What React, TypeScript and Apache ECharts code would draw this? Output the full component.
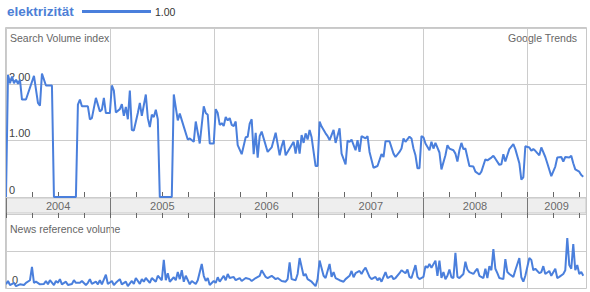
import React, { useEffect, useRef } from "react";
import * as echarts from "echarts";

const seriesName = "elektrizität";
const legendValue = "1.00";
const years = ["2004", "2005", "2006", "2007", "2008", "2009"];
const searchTickLabels = ["0", "1.00", "2.00"];
const newsTickLabels = ["0"];

// weeks counted from the first week of January 2004
const searchWeeks = [
  0, 1, 2, 3, 4, 5, 6, 7, 8, 10,
  14, 16, 17, 18, 20, 23, 24, 35, 36, 37,
  38, 41, 42, 43, 45, 47, 48, 49, 50, 52,
  53, 54, 55, 57, 58, 59, 60, 61, 62, 63,
  64, 66, 67, 68, 70, 71, 72, 73, 74, 75,
  76, 77, 83, 84, 86, 87, 89, 91, 92, 94,
  95, 97, 99, 100, 101, 102, 104, 105, 106, 107,
  108, 109, 110, 111, 112, 113, 114, 115, 116, 118,
  120, 121, 122, 123, 124, 125, 126, 127, 128, 131,
  133, 135, 137, 138, 139, 140, 142, 144, 145, 146,
  147, 148, 149, 150, 151, 152, 153, 155, 156, 157,
  158, 160, 161, 162, 164, 165, 167, 168, 170, 171,
  172, 173, 175, 176, 177, 178, 180, 181, 182, 184,
  186, 188, 189, 190, 192, 194, 195, 197, 198, 199,
  200, 202, 203, 204, 205, 206, 207, 208, 209, 210,
  212, 213, 214, 215, 217, 218, 220, 221, 222, 224,
  225, 226, 227, 228, 229, 230, 232, 234, 235, 237,
  238, 240, 241, 243, 244, 245, 247, 248, 249, 250,
  252, 254, 255, 257, 258, 259, 260, 262, 263, 264,
  265, 267, 268, 270, 271, 273, 275, 276, 278, 279,
  280, 282, 283, 284, 285, 287, 288, 289,
];
const searchValues = [
  0, 2.17, 2.02, 2.14, 2.02, 2.08, 2.01, 2.08, 1.73, 1.73,
  2.15, 1.67, 1.62, 2.19, 1.98, 1.98, 0, 0, 1.64, 1.73,
  1.61, 1.61, 1.38, 1.4, 1.76, 1.52, 1.55, 1.76, 1.49, 1.49,
  1.98, 1.89, 1.5, 1.56, 1.65, 1.44, 1.6, 1.38, 1.89, 1.19,
  1.18, 1.49, 1.67, 1.44, 1.82, 1.4, 1.24, 1.46, 1.42, 1.55,
  1.38, 0, 0, 1.82, 1.36, 1.48, 1.25, 1.02, 1.04, 0.98,
  1.34, 0.95, 1.61, 1.49, 1.46, 0.95, 0.95, 1.56, 1.49, 1.28,
  1.31, 1.26, 1.42, 1.36, 1.4, 1.28, 1.26, 1.34, 0.92, 0.76,
  1.06, 1.07, 1.3, 1.38, 0.76, 1.14, 0.7, 1.08, 1.16, 0.8,
  0.88, 1.14, 0.74, 0.9, 1.01, 0.74, 0.86, 0.98, 0.77, 1.01,
  0.77, 1.1, 0.96, 1.13, 1.02, 1.19, 1.06, 0.55, 0.55, 1.34,
  1.25, 1.13, 1.08, 1.01, 1.19, 0.96, 1.22, 0.77, 0.58, 1.0,
  0.98, 1.02, 0.83, 1.01, 0.8, 1.08, 1.04, 1.08, 0.8, 0.52,
  0.55, 0.76, 0.71, 0.99, 0.99, 0.77, 0.71, 0.8, 0.86, 1.04,
  0.98, 1.07, 1.04, 0.86, 0.74, 0.51, 0.51, 1.08, 1.06, 0.95,
  0.83, 0.98, 0.86, 0.96, 0.79, 0.49, 0.74, 0.92, 0.86, 0.83,
  0.77, 0.63, 0.83, 0.96, 0.85, 0.86, 0.55, 0.54, 0.45, 0.4,
  0.45, 0.67, 0.65, 0.7, 0.73, 0.68, 0.57, 0.58, 0.76, 0.63,
  0.85, 0.94, 0.85, 0.6, 0.31, 0.35, 0.9, 0.88, 0.82, 0.85,
  0.82, 0.74, 0.88, 0.71, 0.6, 0.37, 0.54, 0.7, 0.71, 0.63,
  0.71, 0.7, 0.73, 0.6, 0.49, 0.45, 0.39, 0.36,
];

const newsWeeks = [
  0, 1, 2, 4, 5, 7, 9, 10, 12, 13,
  14, 15, 17, 19, 20, 21, 22, 24, 25, 26,
  27, 28, 30, 31, 33, 34, 35, 37, 38, 40,
  41, 42, 43, 45, 46, 47, 48, 50, 51, 53,
  54, 55, 57, 58, 60, 61, 63, 64, 65, 67,
  68, 69, 70, 72, 73, 75, 76, 78, 79, 80,
  81, 82, 84, 85, 86, 87, 88, 89, 90, 92,
  93, 95, 96, 98, 99, 100, 101, 102, 104, 105,
  106, 107, 109, 110, 111, 112, 114, 115, 117, 118,
  120, 122, 123, 125, 127, 128, 130, 131, 133, 135,
  136, 138, 140, 141, 142, 143, 145, 146, 147, 149,
  150, 151, 153, 155, 156, 157, 159, 160, 162, 163,
  164, 165, 167, 169, 170, 172, 173, 174, 175, 177,
  178, 179, 180, 182, 183, 185, 186, 187, 188, 190,
  191, 193, 194, 195, 197, 198, 200, 201, 202, 203,
  205, 206, 207, 209, 210, 211, 212, 213, 215, 216,
  217, 218, 219, 220, 221, 222, 223, 224, 225, 226,
  227, 229, 230, 231, 232, 234, 235, 236, 237, 239,
  240, 241, 242, 243, 244, 245, 246, 247, 249, 250,
  251, 252, 254, 255, 257, 258, 259, 260, 262, 263,
  264, 265, 267, 268, 269, 270, 272, 273, 275, 276,
  277, 279, 280, 281, 282, 283, 284, 285, 286, 287,
  288, 289,
];
const newsValues = [
  0.1, 0.19, 0.08, 0.14, 0.05, 0.1, 0.08, 0.14, 0.21, 0.57,
  0.14, 0.17, 0.1, 0.11, 0.19, 0.1, 0.21, 0.08, 0.19, 0.14,
  0.24, 0.1, 0.17, 0.08, 0.11, 0.21, 0.14, 0.14, 0.19, 0.08,
  0.14, 0.24, 0.11, 0.17, 0.1, 0.21, 0.1, 0.36, 0.11, 0.19,
  0.08, 0.14, 0.24, 0.1, 0.17, 0.05, 0.19, 0.11, 0.27, 0.11,
  0.24, 0.17, 0.27, 0.14, 0.27, 0.17, 0.33, 0.21, 0.76, 0.21,
  0.4, 0.17, 0.29, 0.21, 0.43, 0.24, 0.48, 0.17, 0.33, 0.1,
  0.19, 0.11, 0.21, 0.65, 0.33, 0.19, 0.27, 0.08, 0.19, 0.14,
  0.29, 0.17, 0.33, 0.21, 0.38, 0.27, 0.3, 0.21, 0.27, 0.19,
  0.27, 0.24, 0.19, 0.27, 0.33, 0.48, 0.3, 0.27, 0.33, 0.24,
  0.27, 0.19, 0.17, 0.24, 0.69, 0.24, 0.21, 0.38, 0.81, 0.33,
  0.38, 0.24, 0.17, 0.05, 0.24, 0.74, 0.33, 0.27, 0.65, 0.3,
  0.43, 0.27, 0.21, 0.17, 0.24, 0.33, 0.46, 0.29, 0.4, 0.46,
  0.38, 0.48, 0.55, 0.3, 0.24, 0.3, 0.21, 0.27, 0.17, 0.43,
  0.27, 0.33, 0.24, 0.27, 0.4, 0.48, 0.4, 0.5, 0.3, 0.27,
  0.62, 0.3, 0.24, 0.3, 0.59, 0.55, 0.65, 0.55, 0.74, 0.33,
  0.74, 0.27, 0.43, 0.24, 0.33, 0.5, 0.29, 0.27, 0.95, 0.3,
  0.27, 0.38, 0.71, 0.5, 0.43, 0.38, 0.46, 0.52, 0.33, 0.27,
  0.52, 0.27, 0.59, 0.48, 1.05, 0.52, 0.4, 0.27, 0.24, 0.78,
  0.43, 0.38, 0.3, 0.48, 0.81, 0.29, 0.17, 0.33, 0.81, 0.76,
  0.48, 0.52, 0.4, 0.43, 0.59, 0.38, 0.46, 0.33, 0.52, 0.27,
  0.3, 0.38, 0.48, 1.35, 0.62, 0.52, 1.19, 0.48, 0.62, 0.38,
  0.43, 0.33,
];

const X_MIN = 2004;
const X_MAX = 2009.565;
const weekToYear = (w: number) => X_MIN + (w * 7) / 365.25;

const LINE = "#4a7fdc";
const FONT = "'Liberation Sans', Arial, Helvetica, sans-serif";

function pairs(weeks: number[], values: number[]) {
  const n = Math.min(weeks.length, values.length);
  const out: number[][] = [];
  for (let i = 0; i < n; i++) out.push([weekToYear(weeks[i]), values[i]]);
  return out;
}

export default function App() {
  const ref = useRef<HTMLDivElement>(null);

  useEffect(() => {
    if (!ref.current) return;
    const chart = echarts.init(ref.current, null, { renderer: "svg" });

    const yearLabelData = years.map((y) => {
      const yr = Number(y);
      const lo = Math.max(yr, X_MIN);
      const hi = Math.min(yr + 1, X_MAX);
      return { name: y, value: [(lo + hi) / 2, 0.5] };
    });

    const baseX = {
      type: "value" as const,
      min: X_MIN,
      max: X_MAX,
      axisLine: { show: false },
      axisLabel: { show: false },
      axisTick: { show: false },
      splitLine: { show: false },
    };

    const option: any = {
      animation: false,
      textStyle: { fontFamily: FONT },
      grid: [
        { left: 6, right: 4, top: 28, height: 169 },
        {
          left: 6,
          right: 4,
          top: 198,
          height: 15,
          show: true,
          backgroundColor: "#eeeeee",
          borderColor: "#c8c8c8",
          borderWidth: 1,
        },
        { left: 6, right: 4, top: 214, height: 74 },
      ],
      xAxis: [
        {
          ...baseX,
          gridIndex: 0,
          position: "bottom",
          interval: 0.25,
          axisTick: { show: true, inside: true, length: 5, lineStyle: { color: "#666" } },
        },
        {
          ...baseX,
          gridIndex: 0,
          position: "top",
          interval: 1,
          splitLine: { show: true, lineStyle: { color: "#cccccc", width: 1 } },
        },
        {
          ...baseX,
          gridIndex: 1,
          position: "bottom",
          interval: 0.25,
          axisTick: { show: true, inside: false, length: 5, lineStyle: { color: "#666" } },
        },
        {
          ...baseX,
          gridIndex: 1,
          position: "top",
          interval: 1,
          splitLine: { show: true, lineStyle: { color: "#777777", width: 1 } },
        },
        {
          ...baseX,
          gridIndex: 2,
          position: "bottom",
          interval: 1,
          splitLine: { show: true, lineStyle: { color: "#cccccc", width: 1 } },
        },
      ],
      yAxis: [
        {
          type: "value",
          gridIndex: 0,
          min: 0,
          max: 3,
          interval: 1,
          axisLine: { show: false },
          axisTick: { show: false },
          splitLine: { show: true, lineStyle: { color: "#cccccc" } },
          axisLabel: {
            inside: true,
            margin: 3,
            align: "left",
            verticalAlign: "bottom",
            padding: [0, 0, 2, 0],
            color: "#444",
            fontSize: 11,
            fontFamily: FONT,
            formatter: (v: number) => searchTickLabels[v] ?? "",
          },
        },
        { type: "value", gridIndex: 1, min: 0, max: 1, show: false },
        {
          type: "value",
          gridIndex: 2,
          min: 0,
          max: 2,
          interval: 1,
          axisLine: { show: false },
          axisTick: { show: false },
          splitLine: { show: true, lineStyle: { color: "#cccccc" } },
          axisLabel: {
            inside: true,
            margin: 6,
            align: "left",
            verticalAlign: "bottom",
            padding: [0, 0, 3, 0],
            color: "#444",
            fontSize: 11,
            fontFamily: FONT,
            formatter: (v: number) => newsTickLabels[v] ?? "",
          },
        },
      ],
      series: [
        {
          name: seriesName,
          type: "line",
          xAxisIndex: 0,
          yAxisIndex: 0,
          data: pairs(searchWeeks, searchValues),
          showSymbol: false,
          symbol: "none",
          silent: true,
          lineStyle: { color: LINE, width: 2 },
          itemStyle: { color: LINE },
          z: 5,
        },
        {
          type: "scatter",
          xAxisIndex: 2,
          yAxisIndex: 1,
          symbolSize: 0,
          silent: true,
          data: yearLabelData,
          label: {
            show: true,
            position: "inside",
            formatter: "{b}",
            color: "#444",
            fontSize: 11,
            fontFamily: FONT,
          },
        },
        {
          name: "news",
          type: "line",
          xAxisIndex: 4,
          yAxisIndex: 2,
          data: pairs(newsWeeks, newsValues),
          showSymbol: false,
          symbol: "none",
          silent: true,
          lineStyle: { color: LINE, width: 2 },
          itemStyle: { color: LINE },
          z: 5,
        },
      ],
      graphic: [
        {
          type: "rect",
          silent: true,
          z: 50,
          shape: { x: 5.5, y: 27.5, width: 581, height: 261 },
          style: { fill: "none", stroke: "#c8c8c8", lineWidth: 1 },
        },
        {
          type: "text",
          x: 7,
          y: 11,
          style: {
            text: seriesName,
            font: `bold 13.5px ${FONT}`,
            fill: "#4d7fd6",
            align: "left",
            verticalAlign: "middle",
          },
        },
        {
          type: "rect",
          shape: { x: 82, y: 10, width: 69, height: 3 },
          style: { fill: LINE },
        },
        {
          type: "text",
          x: 155,
          y: 11.5,
          style: {
            text: legendValue,
            font: `10.5px ${FONT}`,
            fill: "#333",
            align: "left",
            verticalAlign: "middle",
          },
        },
        {
          type: "text",
          x: 10,
          y: 38,
          style: {
            text: "Search Volume index",
            font: `10.5px ${FONT}`,
            fill: "#666",
            align: "left",
            verticalAlign: "middle",
          },
        },
        {
          type: "text",
          x: 577,
          y: 38,
          style: {
            text: "Google Trends",
            font: `10.5px ${FONT}`,
            fill: "#666",
            align: "right",
            verticalAlign: "middle",
          },
        },
        {
          type: "text",
          x: 10,
          y: 229,
          style: {
            text: "News reference volume",
            font: `10.5px ${FONT}`,
            fill: "#666",
            align: "left",
            verticalAlign: "middle",
          },
        },
      ],
    };

    chart.setOption(option);
    return () => chart.dispose();
  }, []);

  return (
    <div
      ref={ref}
      style={{ position: "fixed", left: 0, top: 0, width: 590, height: 292, background: "#fff" }}
    />
  );
}
